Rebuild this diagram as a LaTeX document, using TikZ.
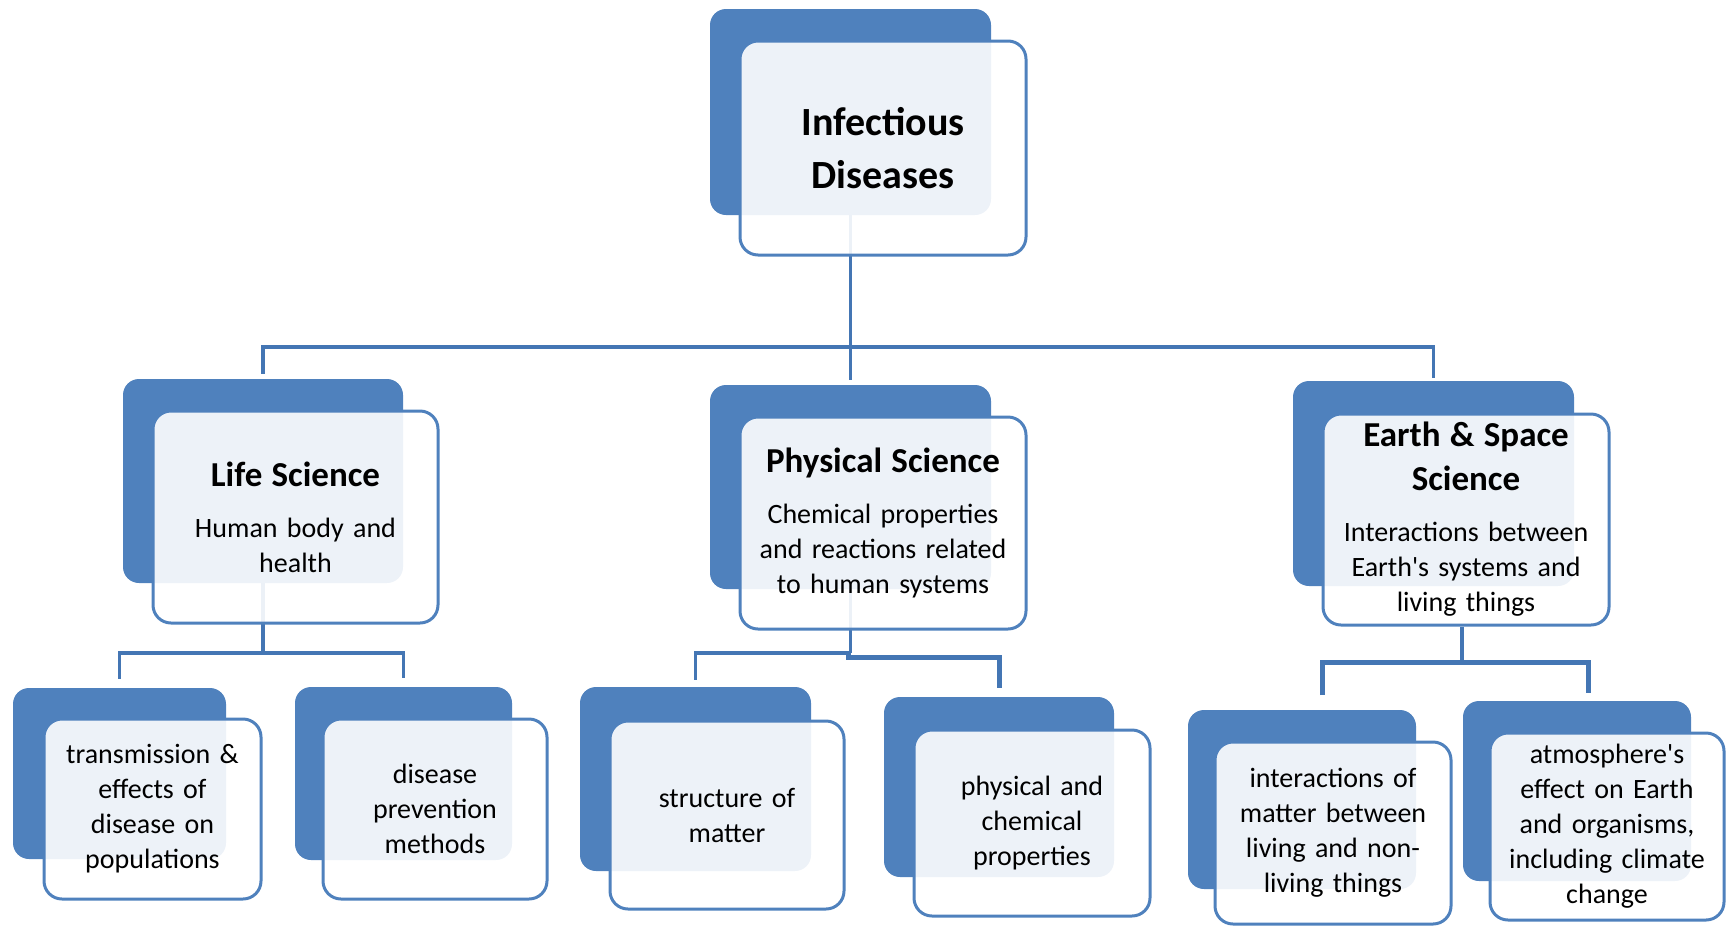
\documentclass[tikz,border=0pt]{standalone}
\usepackage{fontspec}
\setmainfont{Carlito}[WordSpace=0.75]
\definecolor{accent}{RGB}{79,129,189}
\definecolor{connc}{RGB}{68,118,180}
\newcommand\fInf{\fontsize{40}{53}\selectfont\bfseries}
\newcommand\fTitle{\fontsize{35}{44}\selectfont\bfseries}
\newcommand\fBody{\fontsize{28}{35}\selectfont}
\tikzset{
  backbox/.style={fill=accent, rounded corners=16pt, inner sep=0pt},
  frontbox/.style={draw=accent, line width=3pt, fill=white, fill opacity=0.9, text opacity=1,
    rounded corners=18pt, inner sep=0pt, align=center, font=\fBody},
  conn/.style={draw=connc, line width=3.5pt},
  connthick/.style={draw=connc, line width=5pt},
}
\begin{document}
\begin{tikzpicture}[x=1pt, y=-1pt]
\useasboundingbox (0,0) rectangle (1726,927);
% ---------- back rectangles ----------
\node[backbox, minimum width=281pt, minimum height=206pt] (topB) at (850.5,112) {};
\node[backbox, minimum width=280pt, minimum height=204pt] (lsB) at (263,481) {};
\node[backbox, minimum width=281pt, minimum height=204pt] (psB) at (850.5,487) {};
\node[backbox, minimum width=281pt, minimum height=205pt] (esB) at (1433.5,483.5) {};
\node[backbox, minimum width=213pt, minimum height=171pt] (trB) at (119.5,773.5) {};
\node[backbox, minimum width=217pt, minimum height=173pt] (prB) at (403.5,773.5) {};
\node[backbox, minimum width=231pt, minimum height=184pt] (smB) at (695.5,779) {};
\node[backbox, minimum width=230pt, minimum height=180pt] (pcB) at (999,787) {};
\node[backbox, minimum width=228pt, minimum height=179pt] (inB) at (1302,799.5) {};
\node[backbox, minimum width=228pt, minimum height=180pt] (atB) at (1577,791) {};
% ---------- connectors ----------
\coordinate (bus) at (851,347);
\draw[conn, shorten >=5pt] (topB.south) -- (psB.north);
\draw[conn, shorten <=5pt, shorten >=3pt] (lsB.north) |- (bus) -| (esB.north);
\coordinate (lsbus) at (263,653);
\draw[conn] (lsB.south) -- (lsbus);
\draw[conn, shorten <=9pt, shorten >=9pt] (trB.north) |- (lsbus) -| (prB.north);
\coordinate (psbus) at (850.5,653);
\coordinate (psbus2) at (846,657);
\draw[conn] (psB.south) -- (psbus);
\draw[conn, shorten <=7pt] (smB.north) |- (psbus);
\draw[connthick, shorten <=9pt] (pcB.north) |- (psbus2);
\coordinate (esbus) at (1462,662);
\coordinate (inTop) at (1322,695);
\coordinate (atTop) at (1588,693);
\draw[connthick] (inTop) |- (esbus) -| (atTop);
% ---------- front rectangles ----------
\node[frontbox, minimum width=286pt, minimum height=214pt, text width=260pt] (topF) at (883,148)
  {\fInf Infectious\\Diseases\par};
\node[frontbox, minimum width=285pt, minimum height=212pt, text width=265pt] (lsF) at (295.5,517)
  {{\fTitle Life Science\par}\vskip16pt{\fBody Human body and\\health\par}};
\node[frontbox, minimum width=286pt, minimum height=212pt, text width=270pt] (psF) at (883,523)
  {{\fTitle Physical Science\par}\vskip16pt{\fBody Chemical properties\\and reactions related\\to human systems\par}};
\node[frontbox, minimum width=286pt, minimum height=211pt, text width=270pt] (esF) at (1466,519.5)
  {{\fTitle Earth \& Space\\Science\par}\vskip16pt{\fBody Interactions between\\Earth\textquotesingle s systems and\\living things\par}};
\node[frontbox, minimum width=217pt, minimum height=180pt, text width=205pt] (trF) at (152.5,809)
  {transmission \&\\effects of\\disease on\\populations};
\node[frontbox, minimum width=224pt, minimum height=180pt, text width=210pt] (prF) at (435,809)
  {disease\\prevention\\methods};
\node[frontbox, minimum width=234pt, minimum height=188pt, text width=220pt] (smF) at (727,815)
  {structure of\\matter};
\node[frontbox, minimum width=236pt, minimum height=186pt, text width=220pt] (pcF) at (1032,823)
  {physical and\\chemical\\properties};
\node[frontbox, minimum width=236pt, minimum height=182pt, text width=225pt] (inF) at (1333,833)
  {interactions of\\matter between\\living and non-\\living things};
\node[frontbox, minimum width=234pt, minimum height=187pt, text width=225pt] (atF) at (1607,826.5)
  {atmosphere\textquotesingle s\\effect on Earth\\and organisms,\\including climate\\change};
\draw[conn] (esbus |- esF.south) -- (esbus);
\end{tikzpicture}
\end{document}
